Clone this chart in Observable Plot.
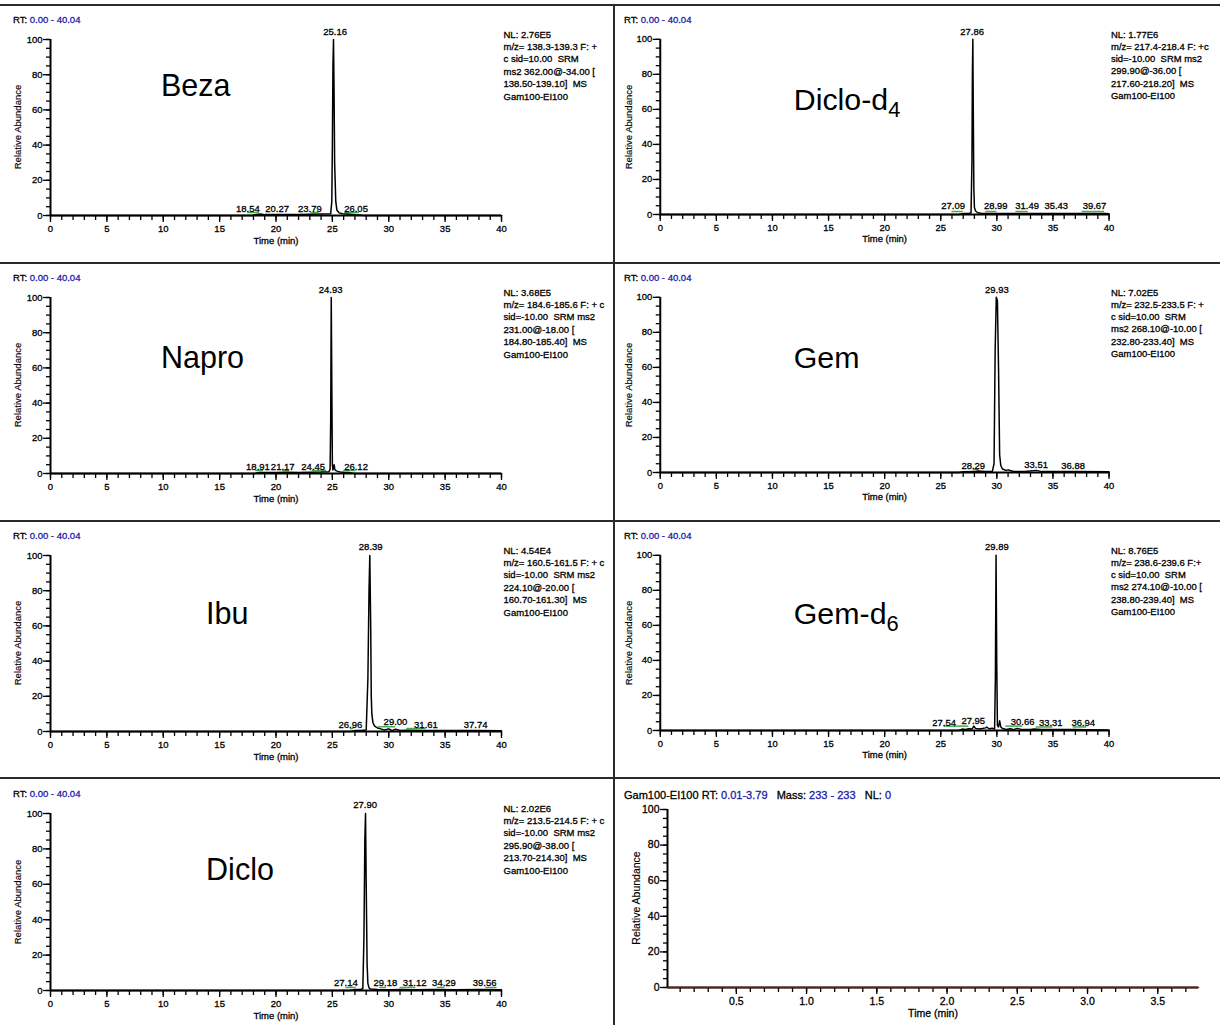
<!DOCTYPE html>
<html><head><meta charset="utf-8">
<script src="https://cdn.jsdelivr.net/npm/d3@7"></script>
<script src="https://cdn.jsdelivr.net/npm/@observablehq/plot@0.6"></script>
<style>
body{margin:0;background:#fff;font-family:"Liberation Sans",Arial,sans-serif;}
#root{position:relative;width:1220px;height:1025px;overflow:hidden;background:#fff;}
.hline{position:absolute;left:0;width:1220px;height:2px;background:#2a2a2a;}
.vline{position:absolute;width:2px;background:#2a2a2a;}
.panel{position:absolute;}
.panel svg text{stroke:#000;stroke-width:0.3px;}
.panel svg text.big{stroke:none;}
.hdr{position:absolute;font-size:9.5px;line-height:12px;color:#000;white-space:pre;-webkit-text-stroke:0.3px currentColor;}
.hdr .b{color:#1c1ca8;}
.ylab{position:absolute;font-size:9.5px;line-height:12px;white-space:nowrap;transform:translate(-50%,-50%) rotate(-90deg);color:#000;-webkit-text-stroke:0.15px #000;}
</style></head><body><div id="root"></div>
<script>
// ---------- data ----------
const compounds = ["Beza", "Diclo-d_4", "Napro", "Gem", "Ibu", "Gem-d_6", "Diclo"];
const nameX = [9.8, 11.9, 9.8, 11.9, 13.8, 11.9, 13.8];
const nameY = [73.3, 65.3, 65.3, 65.3, 66.5, 66.5, 67.8];
const rtRange = "0.00 - 40.04";
const yTitle = "Relative Abundance";
const xTitle = "Time (min)";
const scanInfo = [
  "NL: 2.76E5\nm/z= 138.3-139.3 F: +\nc sid=10.00  SRM\nms2 362.00@-34.00 [\n138.50-139.10]  MS\nGam100-EI100",
  "NL: 1.77E6\nm/z= 217.4-218.4 F: +c\nsid=-10.00  SRM ms2\n299.90@-36.00 [\n217.60-218.20]  MS\nGam100-EI100",
  "NL: 3.68E5\nm/z= 184.6-185.6 F: + c\nsid=-10.00  SRM ms2\n231.00@-18.00 [\n184.80-185.40]  MS\nGam100-EI100",
  "NL: 7.02E5\nm/z= 232.5-233.5 F: +\nc sid=10.00  SRM\nms2 268.10@-10.00 [\n232.80-233.40]  MS\nGam100-EI100",
  "NL: 4.54E4\nm/z= 160.5-161.5 F: + c\nsid=-10.00  SRM ms2\n224.10@-20.00 [\n160.70-161.30]  MS\nGam100-EI100",
  "NL: 8.76E5\nm/z= 238.6-239.6 F:+\nc sid=10.00  SRM\nms2 274.10@-10.00 [\n238.80-239.40]  MS\nGam100-EI100",
  "NL: 2.02E6\nm/z= 213.5-214.5 F: + c\nsid=-10.00  SRM ms2\n295.90@-38.00 [\n213.70-214.30]  MS\nGam100-EI100"
];

const bezaTime  = [0,17.9,18.3,18.6,19,20,21,22,23,24,24.85,24.95,25.0,25.05,25.1,25.15,25.2,25.3,25.4,25.6,25.9,26.3,26.8,27.3,27.8,40];
const bezaAbund = [0,0,0.6,0.8,0.5,0.6,0.5,0.6,0.7,0.8,1.0,8,40,85,100,70,30,8,3,1.5,1.0,0.8,0.6,0.3,0,0];
const bezaLabels = ["25.16","18.54","20.27","23.79","26.05"];
const bezaLabelX = [25.25,17.5,20.1,23.0,27.1];
const bezaLabelY = [104.5,4,4,4,4];
const bezaGreen = [[17.5,18.5,1.7],[23.1,23.8,1.7],[26.1,27.4,1.7]];

const diclod4Time  = [0,26.6,27.0,27.5,27.7,27.78,27.82,27.86,27.9,27.95,28.0,28.1,28.3,28.6,29,30,31.5,33,35.4,37,39.7,40];
const diclod4Abund = [0,0,0.6,0.7,0.8,30,80,100,60,15,4,2,1,0.7,0.6,0.5,0.6,0.5,0.6,0.5,0.5,0.4];
const diclod4Labels = ["27.86","27.09","28.99","31.49","35.43","39.67"];
const diclod4LabelX = [27.8,26.1,29.9,32.7,35.3,38.7];
const diclod4LabelY = [104.5,5,5,5,5,5];
const diclod4Green = [[26.0,27.0,1.7],[29.0,30.0,1.7],[31.7,32.8,1.7],[37.6,39.6,1.7]];

const naproTime  = [0,18.1,18.5,19,20,21,22,23,24,24.7,24.8,24.85,24.9,24.95,25.0,25.05,25.1,25.15,25.2,25.25,25.35,25.5,25.7,26,26.5,27,40];
const naproAbund = [0,0,0.6,0.5,0.6,0.7,0.6,0.7,0.8,1.0,2.5,30,100,50,5,2,3,5,3,2,1.5,1.2,0.9,0.7,0.5,0,0];
const naproLabels = ["24.93","18.91","21.17","24.45","26.12"];
const naproLabelX = [24.85,18.4,20.6,23.3,27.1];
const naproLabelY = [104.5,3.6,3.6,3.6,3.6];
const naproGreen = [[18.2,18.9,1.7],[20.6,21.2,1.7],[23.2,24.5,1.7],[26.0,27.1,1.7]];

const gemTime  = [0,26.6,27,28,28.3,29,29.6,29.75,29.85,29.95,30.05,30.15,30.25,30.35,30.5,30.8,31.0,31.5,32.5,33.5,34,35,37,40];
const gemAbund = [0,0,0.4,0.5,0.9,0.5,0.6,5,70,100,98,60,10,4,2,1.2,1.5,0.6,0.5,1.2,0.5,0.5,0.5,0.4];
const gemLabels = ["29.93","28.29","33.51","36.88"];
const gemLabelX = [30.0,27.9,33.5,36.8];
const gemLabelY = [104.5,4,4.5,4];
const gemGreen = [[27.9,28.4,1.7]];

const ibuTime  = [0,26.6,27,27.5,28.0,28.15,28.25,28.32,28.4,28.45,28.5,28.6,28.75,29.0,29.3,29.6,30.0,30.3,30.6,31,31.6,33,35,37.7,40];
const ibuAbund = [0,0,0.5,0.6,0.8,30,80,100,60,20,10,5,3,2,1.5,0.8,1.5,0.5,1.3,0.6,0.7,0.5,0.5,0.6,0.4];
const ibuLabels = ["28.39","26.96","29.00","31.61","37.74"];
const ibuLabelX = [28.4,26.6,30.6,33.3,37.7];
const ibuLabelY = [105,3.6,5.3,3.6,3.6];
const ibuGreen = [[26.6,26.9,1.7],[29.1,30.6,2.7],[31.6,33.3,1.7]];

const gemd6Time  = [0,26.6,26.9,27.2,27.5,27.8,27.95,28.1,28.4,28.7,29.0,29.1,29.3,29.6,29.8,29.87,29.93,29.99,30.05,30.15,30.25,30.35,30.5,30.8,31.2,31.5,31.8,32.3,33,33.3,34,35,36.9,38,40];
const gemd6Abund = [0,0,0.8,0.6,1.0,0.8,2.5,1.2,0.8,1.1,1.5,2.0,1.0,1.3,0.8,30,100,40,3,2,5.5,2,1.2,0.6,1.0,0.5,1.2,0.5,0.6,0.8,0.5,0.6,0.6,0.4,0.3];
const gemd6Labels = ["29.89","27.54","27.95","30.66","33.31","36.94"];
const gemd6LabelX = [30.0,25.3,27.9,32.3,34.8,37.7];
const gemd6LabelY = [105,4.4,5.3,4.8,4.2,4.2];
const gemd6Green = [[25.3,27.5,2.5],[30.8,32.3,2.5],[33.5,35.0,2],[36.8,38.0,2]];

const dicloTime  = [0,26.5,27,27.5,27.7,27.8,27.88,27.94,28.0,28.08,28.15,28.25,28.4,29,30,31,32,34,36,38,40];
const dicloAbund = [0,0,0.5,0.6,1,30,85,100,60,15,4,1.5,0.8,0.5,0.4,0.5,0.4,0.5,0.4,0.5,0.4];
const dicloLabels = ["27.90","27.14","29.18","31.12","34.29","39.56"];
const dicloLabelX = [27.9,26.2,29.7,32.3,34.9,38.5];
const dicloLabelY = [105,4,4,4,4,4];
const dicloGreen = [[26.2,27.1,1.7],[29.2,29.8,1.7],[31.0,32.4,1.7],[34.3,35.0,1.7],[38.6,39.6,1.7]];

const xMajor = [0,5,10,15,20,25,30,35,40];
const yMajor = [0,20,40,60,80,100];

// empty scan panel
const emptyHeader = [["Gam100-EI100 RT: ",0],["0.01-3.79",1],["   Mass: ",0],["233 - 233",1],["   NL: ",0],["0",1]];
const emptyTime = [0.01, 3.79];
const emptyAbund = [0, 0];
const emptyXMajor = [0.5,1.0,1.5,2.0,2.5,3.0,3.5];

// ---------- layout ----------
const root = document.getElementById("root");
const FONT = '"Liberation Sans", Arial, sans-serif';
function addDiv(cls, css){const d=document.createElement("div");d.className=cls;Object.assign(d.style,css);root.appendChild(d);return d;}
[4,262,520,777].forEach(y=>addDiv("hline",{top:y+"px"}));
addDiv("vline",{left:"613px",top:"4px",height:"1021px"});

function header(parts, left, cy, fs){
  const d = addDiv("hdr",{left:left+"px", top:(cy-6)+"px"});
  if (fs) d.style.fontSize = fs + "px";
  d.innerHTML = parts.map(([s,b])=> b ? `<span class="b">${s}</span>` : s).join("");
}
function ylabel(cx, cy, fs){
  const d = addDiv("ylab",{left:cx+"px", top:cy+"px"});
  if (fs) d.style.fontSize = fs + "px";
  d.textContent = yTitle;
}

const traces = [
  [bezaTime,bezaAbund,bezaLabels,bezaLabelX,bezaLabelY,bezaGreen],
  [diclod4Time,diclod4Abund,diclod4Labels,diclod4LabelX,diclod4LabelY,diclod4Green],
  [naproTime,naproAbund,naproLabels,naproLabelX,naproLabelY,naproGreen],
  [gemTime,gemAbund,gemLabels,gemLabelX,gemLabelY,gemGreen],
  [ibuTime,ibuAbund,ibuLabels,ibuLabelX,ibuLabelY,ibuGreen],
  [gemd6Time,gemd6Abund,gemd6Labels,gemd6LabelX,gemd6LabelY,gemd6Green],
  [dicloTime,dicloAbund,dicloLabels,dicloLabelX,dicloLabelY,dicloGreen]
];
const rowY100 = [39, 297, 555, 813];
const rowH = [176, 176, 176, 177];
const colLeft = [0, 610];
const colHdr = [13, 624];
const colYLab = [18, 629];

function fixNames(svg){
  d3.select(svg).selectAll("text").each(function(){
    const t = this.textContent;
    if (compounds.includes(t)) this.classList.add("big");
    if (t.includes("_") && this.children.length===0){
      const [a,b] = t.split("_");
      this.textContent = "";
      d3.select(this).append("tspan").text(a);
      d3.select(this).append("tspan").attr("dy","0.32em").attr("font-size","0.72em").text(b);
    }
  });
}

compounds.forEach((name, i) => {
  const row = Math.floor(i/2), col = i%2;
  const [T, A, L, LX, LY, G] = traces[i];
  const data = T.map((t,k)=>({t, a:A[k]}));
  const labs = L.map((s,k)=>({s, x:LX[k], y:LY[k]}));
  const greens = G.map(([a,b,h])=>({a,b,h}));
  const H = rowH[row];
  const svg = Plot.plot({
    width: 613, height: 30+H+45,
    marginLeft: 50, marginRight: 112, marginTop: 30, marginBottom: 45,
    style: {fontFamily: FONT, fontSize: "9.5px", background: "transparent", color: "#000"},
    x: {domain: [0, 40]},
    y: {domain: [0, 100]},
    marks: [
      Plot.axisY(d3.range(0,101,5), {tickSize:4, tickFormat:()=>"", strokeWidth:1.3, label:null}),
      Plot.axisY(yMajor, {tickSize:7, tickPadding:1, strokeWidth:1.3, fontSize:9.5, label:null}),
      Plot.axisX(d3.range(0,41,1), {tickSize:5, tickFormat:()=>"", strokeWidth:1.3, label:null}),
      Plot.axisX(xMajor, {tickSize:7, tickPadding:3, strokeWidth:1.3, fontSize:9.5, label:null}),
      Plot.ruleX([0], {strokeWidth:2}),
      Plot.ruleY([0], {strokeWidth:2}),
      Plot.ruleY(greens, {x1:"a", x2:"b", y:"h", stroke:"#3cb043", strokeWidth:1.5}),
      Plot.line(data, {x:"t", y:"a", stroke:"#000", strokeWidth:1.5}),
      Plot.text(labs, {x:"x", y:"y", text:"s", fontSize:9.5, lineAnchor:"middle"}),
      Plot.text([{name, x:nameX[i], y:nameY[i]}], {x:"x", y:"y", text:"name", fontSize:30.5, textAnchor:"start", lineAnchor:"middle"}),
      Plot.text([scanInfo[i]], {frameAnchor:"top-right", textAnchor:"start", lineAnchor:"top", dx:2, dy:-10.5, lineHeight:1.3, fontSize:9.5}),
      Plot.text([xTitle], {frameAnchor:"bottom", dy:28, fontSize:9.5})
    ]
  });
  fixNames(svg);
  const wrap = addDiv("panel", {left: colLeft[col]+"px", top: (rowY100[row]-30)+"px"});
  wrap.appendChild(svg);
  header([["RT: ",0],[rtRange,1]], colHdr[col], rowY100[row]-19);
  ylabel(colYLab[col], rowY100[row] + H/2);
});

// empty panel (bottom right)
{
  const data = emptyTime.map((t,k)=>({t, a:emptyAbund[k]}));
  const svg = Plot.plot({
    width: 586, height: 30+178+45,
    marginLeft: 50, marginRight: 5, marginTop: 30, marginBottom: 45,
    style: {fontFamily: FONT, fontSize: "10.5px", background: "transparent", color: "#000"},
    x: {domain: [0.01, 3.79]},
    y: {domain: [0, 100]},
    marks: [
      Plot.axisY(d3.range(0,101,5), {tickSize:4, tickFormat:()=>"", strokeWidth:1.3, label:null}),
      Plot.axisY(yMajor, {tickSize:7, tickPadding:1, strokeWidth:1.3, fontSize:10.5, label:null}),
      Plot.axisX(d3.range(1,38,1).map(v=>v/10), {tickSize:5, tickFormat:()=>"", strokeWidth:1.3, label:null}),
      Plot.axisX(emptyXMajor, {tickSize:7, tickPadding:3, strokeWidth:1.3, fontSize:10.5, label:null, tickFormat:d3.format(".1f")}),
      Plot.ruleX([0.01], {strokeWidth:2}),
      Plot.ruleY([0], {strokeWidth:2}),
      Plot.line(data, {x:"t", y:"a", stroke:"#7a0f0f", strokeWidth:1.6}),
      Plot.text([xTitle], {frameAnchor:"bottom", dy:29, fontSize:10.5})
    ]
  });
  const wrap = addDiv("panel", {left: "617px", top: (809-30)+"px"});
  wrap.appendChild(svg);
  header(emptyHeader, 624, 795, 11);
  ylabel(636, 898, 10.5);
}
</script>
</body></html>
